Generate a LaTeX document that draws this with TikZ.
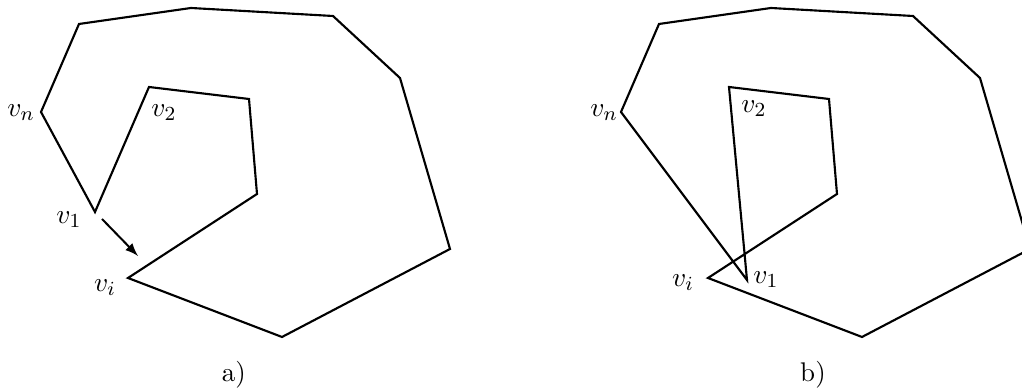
\documentclass[tikz,border=0pt]{standalone}
\usetikzlibrary{arrows}
\begin{document}
\begin{tikzpicture}[x=0.4pt,y=-0.4pt,font=\fontsize{10.8}{13}\selectfont]
	% Styles
	\tikzstyle{trait}=[line width=0.85pt,line join=miter]
	\tikzstyle{fleche}=[->,>=latex,line width=0.8pt]
	\tikzstyle{etiquette}=[inner sep=0pt]
	% Dimensions
	\def\Decalage{580}
	% Cadre
	\clip (0,0) rectangle (1022,390);
	% Sommets a)
	\coordinate (An) at (41,112);
	\coordinate (Aa) at (79,24);
	\coordinate (Ab) at (191,8);
	\coordinate (Ac) at (333,16);
	\coordinate (Ad) at (400,78);
	\coordinate (Ae) at (450,249);
	\coordinate (Af) at (282,337);
	\coordinate (Ai) at (128,278);
	\coordinate (Ag) at (257,194);
	\coordinate (Ah) at (249,99);
	\coordinate (A2) at (149,87);
	\coordinate (A1) at (95,212);
	% Sommets b)
	\coordinate (Bn) at ({41+\Decalage},112);
	\coordinate (Ba) at ({79+\Decalage},24);
	\coordinate (Bb) at ({191+\Decalage},8);
	\coordinate (Bc) at ({333+\Decalage},16);
	\coordinate (Bd) at ({400+\Decalage},78);
	\coordinate (Be) at ({450+\Decalage},249);
	\coordinate (Bf) at ({282+\Decalage},337);
	\coordinate (Bi) at ({128+\Decalage},278);
	\coordinate (Bg) at ({257+\Decalage},194);
	\coordinate (Bh) at ({249+\Decalage},99);
	\coordinate (B2) at ({149+\Decalage},87);
	\coordinate (B1) at (747,280);
	% Etiquettes
	\node[etiquette] (LAn) at (21,113) {$v_n$};
	\node[etiquette] (LA2) at (164,113) {$v_2$};
	\node[etiquette] (LA1) at (69,220) {$v_1$};
	\node[etiquette] (LAi) at (105,288) {$v_i$};
	\node[etiquette] (LBn) at (604,113) {$v_n$};
	\node[etiquette] (LB2) at (754,109) {$v_2$};
	\node[etiquette] (LB1) at (766,280) {$v_1$};
	\node[etiquette] (LBi) at (683,283) {$v_i$};
	\node (Ta) at (234,375) {a)};
	\node (Tb) at (813,375) {b)};
	% Polygones
	\draw[trait] (An)--(Aa)--(Ab)--(Ac)--(Ad)--(Ae)--(Af)--(Ai)--(Ag)--(Ah)--(A2)--(A1)--cycle;
	\draw[trait] (Bn)--(Ba)--(Bb)--(Bc)--(Bd)--(Be)--(Bf)--(Bi)--(Bg)--(Bh)--(B2)--(B1)--cycle;
	% Fleche
	\coordinate (F1) at (102,219);
	\coordinate (F2) at (138,256);
	\draw[fleche] (F1)--(F2);
\end{tikzpicture}
\end{document}
